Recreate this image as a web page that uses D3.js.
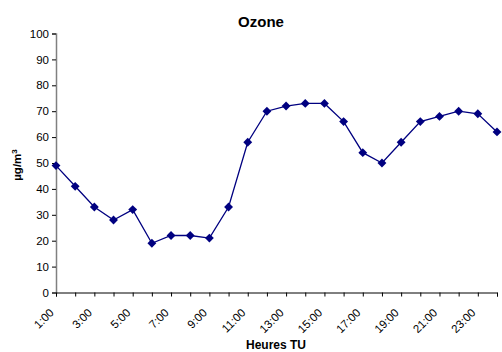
<!DOCTYPE html>
<html><head><meta charset="utf-8">
<script src="https://cdn.jsdelivr.net/npm/d3@7"></script>
<style>body{margin:0;background:#fff}svg{display:block;font-family:"Liberation Sans",Arial,sans-serif}</style>
</head><body><svg width="502" height="352"></svg>
<script>
const hours = ["1:00","2:00","3:00","4:00","5:00","6:00","7:00","8:00","9:00","10:00","11:00","12:00","13:00","14:00","15:00","16:00","17:00","18:00","19:00","20:00","21:00","22:00","23:00","24:00"];
const ozone = [49,41,33,28,32,19,22,22,21,33,58,70,72,73,73,66,54,50,58,66,68,70,69,62];
const tickLabels = ["1:00","3:00","5:00","7:00","9:00","11:00","13:00","15:00","17:00","19:00","21:00","23:00"];
const yTicks = [0,10,20,30,40,50,60,70,80,90,100];

const svg = d3.select("svg");
const x = d3.scalePoint().domain(hours).range([56, 497]);
const y = d3.scaleLinear().domain([0,100]).range([292.5, 33.5]);

// y axis
const ya = svg.append("g").attr("transform","translate(56,0)")
  .call(d3.axisLeft(y).tickValues(yTicks).tickSize(4).tickPadding(3).tickFormat(d3.format("d")));
ya.select(".domain").attr("stroke","#808080").attr("stroke-width",1.5);
ya.selectAll(".tick line").attr("stroke","#000");
ya.selectAll("text").attr("font-size",11.5).attr("fill","#000").attr("font-family","Liberation Sans, Arial, sans-serif");

// x axis
const xa = svg.append("g").attr("transform","translate(0,292.5)")
  .call(d3.axisBottom(x).tickSize(4).tickFormat(d => tickLabels.includes(d) ? d : ""));
xa.select(".domain").attr("stroke","#000").attr("stroke-width",1);
xa.selectAll(".tick line").attr("stroke","#000");
xa.selectAll("text").attr("font-size",11.5).attr("fill","#000").attr("font-family","Liberation Sans, Arial, sans-serif")
  .attr("text-anchor","end").attr("dy",0).attr("y",0)
  .attr("transform","translate(-2,21) rotate(-45)");

// line
svg.append("path").datum(ozone)
  .attr("fill","none").attr("stroke","#000080").attr("stroke-width",1.3)
  .attr("d", d3.line().x((d,i)=>x(hours[i])).y(d=>y(d)));

// markers
svg.append("g").selectAll("path").data(ozone).join("path")
  .attr("transform",(d,i)=>`translate(${x(hours[i])},${y(d)})`)
  .attr("d", d3.symbol().type(d3.symbolDiamond2).size(50))
  .attr("fill","#000080");

// titles
svg.append("text").attr("x",261).attr("y",26.5).attr("text-anchor","middle")
  .attr("font-size",15).attr("font-weight","bold").text("Ozone");
svg.append("text").attr("x",276).attr("y",349).attr("text-anchor","middle")
  .attr("font-size",12).attr("font-weight","bold").text("Heures TU");
const yt = svg.append("text").attr("transform","translate(21,165) rotate(-90)")
  .attr("text-anchor","middle").attr("font-size",11.5).attr("font-weight","bold");
yt.append("tspan").text("µg/m");
yt.append("tspan").attr("font-size",8).attr("dy",-4).text("3");
</script></body></html>
